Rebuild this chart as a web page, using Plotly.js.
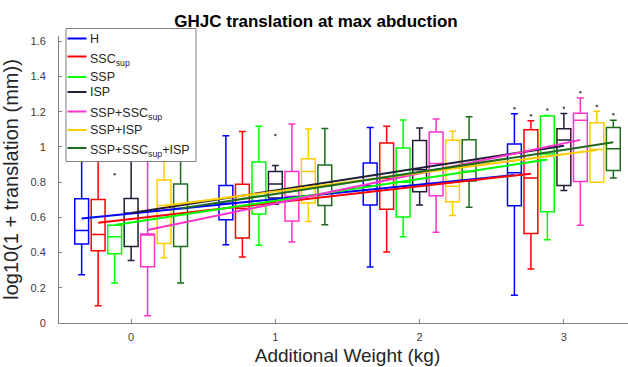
<!DOCTYPE html>
<html>
<head>
<meta charset="utf-8">
<script src="https://cdn.plot.ly/plotly-3.0.1.min.js"></script>
<style>
html, body { margin: 0; padding: 0; overflow: hidden; background: #fff; }
#chart { width: 640px; height: 367px; }
</style>
</head>
<body>
<div id="chart"></div>
<script>
// ---- data ----
const weights = [0, 1, 2, 3];
const seriesNames = ['H', 'SSC<sub>sup</sub>', 'SSP', 'ISP', 'SSP+SSC<sub>sup</sub>', 'SSP+ISP', 'SSP+SSC<sub>sup</sub>+ISP'];
const seriesColors = ['#0000FF', '#FF0000', '#00FF00', '#1E1E38', '#FF33CC', '#FFCC00', '#1E6B1E'];

// box statistics per series (one value per weight)
const lowerWhisker = [
  [0.274, 0.445, 0.318, 0.157],
  [0.098, 0.375, 0.403, 0.307],
  [0.227, 0.441, 0.490, 0.473],
  [0.355, 0.675, 0.670, 0.753],
  [0.041, 0.460, 0.515, 0.555],
  [0.370, 0.576, 0.610, 0.800],
  [0.227, 0.558, 0.657, 0.823]
];
const q1 = [
  [0.449, 0.587, 0.670, 0.666],
  [0.411, 0.483, 0.646, 0.509],
  [0.394, 0.619, 0.602, 0.632],
  [0.434, 0.710, 0.745, 0.781],
  [0.320, 0.579, 0.722, 0.803],
  [0.452, 0.681, 0.689, 0.800],
  [0.435, 0.667, 0.807, 0.866]
];
const medians = [
  [0.526, 0.680, 0.780, 0.854],
  [0.502, 0.650, 0.820, 0.824],
  [0.490, 0.720, 0.800, 0.960],
  [0.625, 0.790, 0.870, 1.040],
  [0.500, 0.720, 0.906, 1.151],
  [0.667, 0.861, 0.776, 0.985],
  [0.650, 0.780, 0.860, 0.990]
];
const q3 = [
  [0.705, 0.781, 0.909, 1.017],
  [0.702, 0.788, 1.023, 1.097],
  [0.555, 0.914, 0.994, 1.176],
  [0.707, 0.860, 1.036, 1.103],
  [0.506, 0.861, 1.085, 1.191],
  [0.812, 0.933, 1.038, 1.138],
  [0.790, 0.898, 1.041, 1.111]
];
const upperWhisker = [
  [1.000, 1.064, 1.111, 1.189],
  [1.000, 1.087, 1.117, 1.148],
  [0.555, 1.117, 1.153, 1.178],
  [1.000, 0.895, 1.108, 1.190],
  [1.000, 1.130, 1.159, 1.278],
  [1.000, 1.102, 1.089, 1.202],
  [1.000, 1.104, 1.172, 1.152]
];

// outliers
const outlierSeries = [2, 3, 0, 1, 2, 3, 4, 5, 6];
const outlierWeight = [0, 1, 3, 3, 3, 3, 3, 3, 3];
const outlierValue  = [0.845, 1.068, 1.219, 1.180, 1.212, 1.222, 1.310, 1.233, 1.185];

// linear fit lines: value at weight 0 and at weight 3
const fitStart = [0.593, 0.570, 0.557, 0.625, 0.528, 0.666, 0.651];
const fitEnd   = [0.840, 0.848, 0.928, 1.007, 1.040, 0.983, 1.026];

// ---- layout helpers ----
const W = 640, H = 367;
const M = { l: 59, r: 4, t: 36, b: 44 };
const PW = W - M.l - M.r, PH = H - M.t - M.b;
const px2x = p => (p - M.l) / PW;
const py2y = p => (H - M.b - p) / PH;
const slot = 0.1143;   // spacing between series inside a weight group
const offsets = seriesNames.map((_, i) => (i - 3) * slot);
const FONT = 'Liberation Sans, Arial, Helvetica, sans-serif';

const traces = [];
seriesNames.forEach((name, i) => {
  traces.push({
    type: 'box',
    x: weights.map(w => w + offsets[i]),
    q1: q1[i], median: medians[i], q3: q3[i],
    lowerfence: lowerWhisker[i], upperfence: upperWhisker[i],
    width: 0.096,
    whiskerwidth: 0.5,
    boxpoints: false,
    fillcolor: 'rgba(0,0,0,0)',
    line: { color: seriesColors[i], width: 1.5 },
    showlegend: false,
    hoverinfo: 'skip'
  });
});
seriesNames.forEach((name, i) => {
  traces.push({
    type: 'scatter', mode: 'lines',
    x: [weights[0] + offsets[i], weights[weights.length - 1] + offsets[i]],
    y: [fitStart[i], fitEnd[i]],
    line: { color: seriesColors[i], width: 2 },
    showlegend: false, hoverinfo: 'skip'
  });
});
traces.push({
  type: 'scatter', mode: 'markers',
  x: outlierWeight.map((w, k) => w + offsets[outlierSeries[k]]),
  y: outlierValue,
  marker: { size: 2.5, color: '#555555' },
  showlegend: false, hoverinfo: 'skip'
});

// manual legend (MATLAB style)
const legendBox = { x0: 66, x1: 196, y0: 28.5, y1: 161.5 };
const legendRowY = [38.5, 56.5, 77, 92, 111.5, 130, 148];
const shapes = [{
  type: 'rect', xref: 'paper', yref: 'paper', layer: 'above',
  x0: px2x(legendBox.x0), x1: px2x(legendBox.x1),
  y0: py2y(legendBox.y1), y1: py2y(legendBox.y0),
  fillcolor: '#ffffff', line: { color: '#808080', width: 1 }
}];
const annotations = [];
seriesNames.forEach((name, i) => {
  shapes.push({
    type: 'line', xref: 'paper', yref: 'paper', layer: 'above',
    x0: px2x(67.5), x1: px2x(86.5), y0: py2y(legendRowY[i]), y1: py2y(legendRowY[i]),
    line: { color: seriesColors[i], width: 2 }
  });
  const hasSub = name.indexOf('<sub>') >= 0;
  annotations.push({
    xref: 'paper', yref: 'paper', showarrow: false,
    x: px2x(87.5), xanchor: 'left',
    y: py2y(legendRowY[i] + (hasSub ? 3 : 0)), yanchor: 'middle',
    text: name, font: { family: FONT, size: 12.5, color: '#262626' }
  });
});

const layout = {
  width: W, height: H,
  margin: M,
  paper_bgcolor: '#ffffff', plot_bgcolor: '#ffffff',
  boxmode: 'overlay',
  showlegend: false,
  font: { family: FONT },
  title: {
    text: 'GHJC translation at max abduction',
    font: { family: FONT, size: 17, color: '#000000', weight: 'bold' },
    xref: 'container', x: 316 / W, xanchor: 'center',
    yref: 'container', y: 1 - 21 / H, yanchor: 'middle'
  },
  xaxis: {
    range: [-0.5, 3.5],
    tickvals: weights, ticktext: weights.map(String),
    ticks: 'inside', ticklen: 4, tickcolor: '#808080',
    showline: true, linecolor: '#808080', linewidth: 1,
    showgrid: false, zeroline: false,
    tickfont: { family: FONT, size: 11, color: '#404040' },
    ticklabelstandoff: 4,
    title: { text: 'Additional Weight (kg)', font: { family: FONT, size: 19, color: '#262626' }, standoff: 6 }
  },
  yaxis: {
    range: [0, 1.63],
    tickvals: [0, 0.2, 0.4, 0.6, 0.8, 1, 1.2, 1.4, 1.6],
    ticks: 'inside', ticklen: 3, tickcolor: '#808080',
    showline: true, linecolor: '#808080', linewidth: 1,
    showgrid: false, zeroline: false,
    tickfont: { family: FONT, size: 11, color: '#404040' },
    ticklabelstandoff: 10,
    title: { text: 'log10(1 + translation (mm))', font: { family: FONT, size: 20, color: '#262626' }, standoff: 6 }
  },
  shapes: shapes,
  annotations: annotations
};

Plotly.newPlot('chart', traces, layout, { displayModeBar: false, staticPlot: true });
</script>
</body>
</html>
